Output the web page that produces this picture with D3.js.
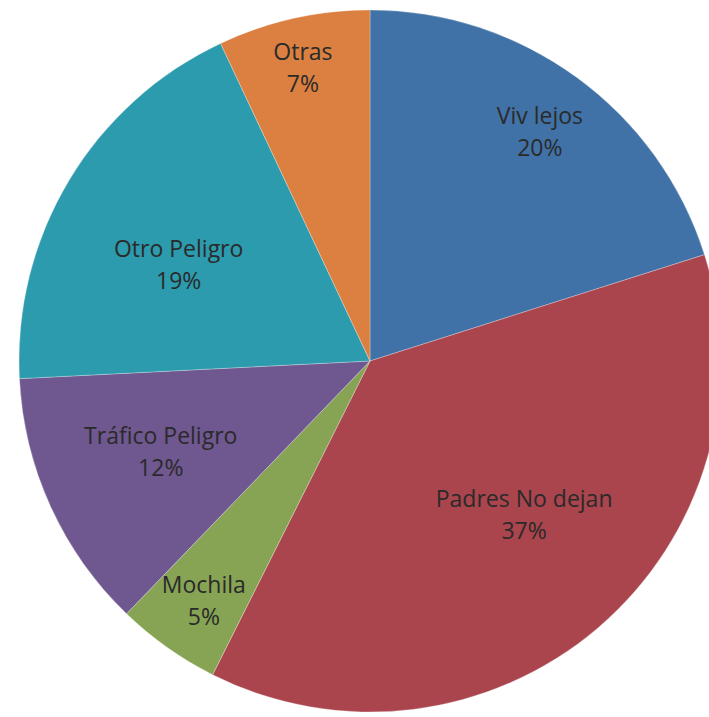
<!DOCTYPE html>
<html>
<head>
<meta charset="utf-8">
<script src="https://cdn.jsdelivr.net/npm/d3@7"></script>
<style>
  body { margin: 0; background: #fff; }
  svg { display: block; }
</style>
</head>
<body>
<div id="chart"></div>
<script>
// data
var categories = ["Viv lejos", "Padres No dejan", "Mochila", "Tráfico Peligro", "Otro Peligro", "Otras"];
var values = [20.1, 37.3, 4.8, 12.0, 18.8, 7.0];
var colors = ["#4172A7", "#AA444D", "#86A454", "#6F578F", "#2B9BAD", "#DB8041"];

var width = 709, height = 717;
var cx = 370, cy = 361, radius = 351;
// label placement: share of radius and a small turn (degrees) off the slice middle
var labelPos = [0.812, 0.621, 0.832, 0.65, 0.61, 0.856];
var labelTurn = [0.4, -4.5, -0.6, 1, -4.3, -0.3];

var data = categories.map(function(c, i) { return { name: c, value: values[i] }; });

var svg = d3.select("#chart").append("svg")
  .attr("width", width)
  .attr("height", height);

var g = svg.append("g")
  .attr("transform", "translate(" + cx + "," + cy + ")");

var pie = d3.pie()
  .value(function(d) { return d.value; })
  .sort(null);

var arc = d3.arc()
  .innerRadius(0)
  .outerRadius(radius);

var arcs = pie(data);

g.selectAll("path")
  .data(arcs)
  .enter()
  .append("path")
  .attr("d", arc)
  .attr("fill", function(d, i) { return colors[i]; })
  .style("stroke", "rgba(255,255,255,0.35)")
  .style("stroke-width", 0.8);

var labels = g.selectAll(".lbl")
  .data(arcs)
  .enter()
  .append("text")
  .attr("class", "lbl")
  .attr("transform", function(d, i) {
    var a = (d.startAngle + d.endAngle) / 2 + labelTurn[i] * Math.PI / 180;
    var r = radius * labelPos[i];
    return "translate(" + (Math.sin(a) * r) + "," + (-Math.cos(a) * r) + ")";
  })
  .style("text-anchor", "middle")
  .style("font-family", "'Open Sans', sans-serif")
  .style("font-size", "23px")
  .style("fill", "#2a2a2a");

labels.append("tspan")
  .attr("x", 0)
  .attr("y", -8)
  .text(function(d) { return d.data.name; });

labels.append("tspan")
  .attr("x", 0)
  .attr("y", 24)
  .text(function(d) { return Math.round(d.data.value) + "%"; });
</script>
</body>
</html>
